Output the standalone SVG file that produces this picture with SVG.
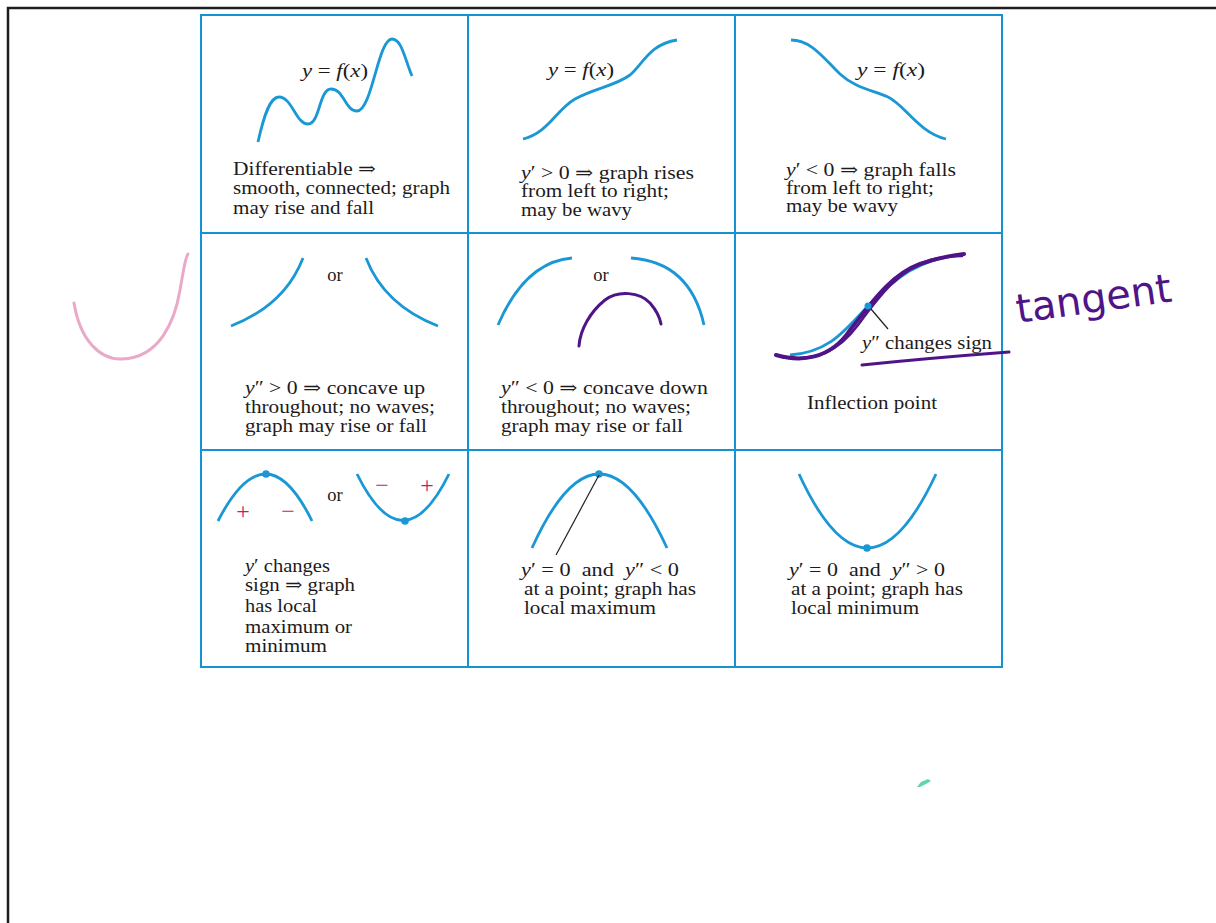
<svg xmlns="http://www.w3.org/2000/svg" width="1216" height="923" viewBox="0 0 1216 923">
<style>
.grid{fill:none;stroke:#1592d2;stroke-width:2}
.cv{fill:none;stroke:#1a98d5;stroke-width:2.8;stroke-linecap:butt}
.dot{fill:#1a98d5}
.t{font-family:"Liberation Serif","DejaVu Serif",serif;font-size:18.5px;fill:#1c1a1b;white-space:pre}
.i{font-style:italic}
.or{font-family:"Liberation Serif","DejaVu Serif",serif;font-size:18.5px;fill:#1c1a1b;text-anchor:middle}
.sg{font-family:"Liberation Serif","DejaVu Serif",serif;font-size:24px;fill:#c41a70;text-anchor:middle}
.lead{stroke:#231f20;stroke-width:1.2;fill:none}
.pen{fill:none;stroke:#4f1487;stroke-linecap:round;stroke-linejoin:round}
</style>
<rect x="0" y="0" width="1216" height="923" fill="#ffffff"/>
<g id="frame">
<path d="M8,923 L8,8 L1216,8" fill="none" stroke="#1e1e1e" stroke-width="2.5"/>
</g>
<g id="grid">
<rect class="grid" x="201" y="15" width="801" height="652"/>
<path class="grid" d="M468,15 V667 M735,15 V667 M201,233 H1002 M201,450 H1002"/>
</g>
<g id="cell-differentiable">
<path class="cv" d="M258,142 C264,115 270,97 279,97 C292,97 296,124 308,124 C320,124 319,89 331,89 C344,89 345,111 357,111 C372,111 378,39 392,39 C402,39 405,60 412,76"/>
<text class="t" x="302" y="77" textLength="66" lengthAdjust="spacingAndGlyphs"><tspan class="i">y</tspan> = <tspan class="i">f</tspan>(<tspan class="i">x</tspan>)</text>
<text class="t" x="233" y="175" textLength="143" lengthAdjust="spacingAndGlyphs">Differentiable ⇒</text>
<text class="t" x="233" y="194" textLength="217" lengthAdjust="spacingAndGlyphs">smooth, connected; graph</text>
<text class="t" x="233" y="214" textLength="141" lengthAdjust="spacingAndGlyphs">may rise and fall</text>
</g>
<g id="cell-rises">
<path class="cv" d="M523,139 C548,133 556,110 575,99 C595,88 615,86 630,75 C643,64 650,44 677,40"/>
<text class="t" x="548" y="76" textLength="66" lengthAdjust="spacingAndGlyphs"><tspan class="i">y</tspan> = <tspan class="i">f</tspan>(<tspan class="i">x</tspan>)</text>
<text class="t" x="521" y="179" textLength="173" lengthAdjust="spacingAndGlyphs"><tspan class="i">y</tspan>′ &gt; 0 ⇒ graph rises</text>
<text class="t" x="521" y="197" textLength="148" lengthAdjust="spacingAndGlyphs">from left to right;</text>
<text class="t" x="521" y="216" textLength="111" lengthAdjust="spacingAndGlyphs">may be wavy</text>
</g>
<g id="cell-falls">
<path class="cv" d="M791,40 C812,40 825,60 840,74 C855,88 872,90 888,97 C905,105 918,132 946,139"/>
<text class="t" x="857" y="76" textLength="68" lengthAdjust="spacingAndGlyphs"><tspan class="i">y</tspan> = <tspan class="i">f</tspan>(<tspan class="i">x</tspan>)</text>
<text class="t" x="786" y="176" textLength="170" lengthAdjust="spacingAndGlyphs"><tspan class="i">y</tspan>′ &lt; 0 ⇒ graph falls</text>
<text class="t" x="786" y="194" textLength="148" lengthAdjust="spacingAndGlyphs">from left to right;</text>
<text class="t" x="786" y="212" textLength="112" lengthAdjust="spacingAndGlyphs">may be wavy</text>
</g>
<g id="cell-concave-up">
<path class="cv" d="M231,326 Q285,305 303,258"/>
<path class="cv" d="M366,258 Q384,305 438,326"/>
<text class="or" x="335" y="281">or</text>
<text class="t" x="245" y="394" textLength="180" lengthAdjust="spacingAndGlyphs"><tspan class="i">y</tspan>″ &gt; 0 ⇒ concave up</text>
<text class="t" x="245" y="413" textLength="190" lengthAdjust="spacingAndGlyphs">throughout; no waves;</text>
<text class="t" x="245" y="432" textLength="182" lengthAdjust="spacingAndGlyphs">graph may rise or fall</text>
</g>
<g id="cell-concave-down">
<path class="cv" d="M498,325 Q525,262 572,258"/>
<path class="cv" d="M631,258 Q690,262 704,325"/>
<text class="or" x="601" y="281">or</text>
<path class="pen" stroke-width="3" d="M579,346 C580,330 590,312 605,300 C618,290 640,292 650,303 C656,310 660,318 661,324"/>
<text class="t" x="501" y="394" textLength="207" lengthAdjust="spacingAndGlyphs"><tspan class="i">y</tspan>″ &lt; 0 ⇒ concave down</text>
<text class="t" x="501" y="413" textLength="190" lengthAdjust="spacingAndGlyphs">throughout; no waves;</text>
<text class="t" x="501" y="432" textLength="182" lengthAdjust="spacingAndGlyphs">graph may rise or fall</text>
</g>
<g id="cell-inflection">
<path class="cv" d="M790,355 C830,352 845,330 868,306 C895,278 920,258 962,255"/>
<path class="pen" stroke-width="4" d="M776,355 C800,362 830,360 850,330 C870,305 890,275 920,264 C940,257 955,255 964,254"/>
<path class="pen" stroke-width="2.5" d="M782,357 C815,362 838,352 858,325 C878,298 898,270 930,260 C945,256 955,256 962,256"/>
<circle class="dot" cx="868" cy="306" r="3.5"/>
<text class="t" x="862" y="349" textLength="130" lengthAdjust="spacingAndGlyphs"><tspan class="i">y</tspan>″ changes sign</text>
<path class="pen" stroke-width="3" d="M862,365 Q930,358 1009,352"/>
<text class="t" x="807" y="409" textLength="130" lengthAdjust="spacingAndGlyphs">Inflection point</text>
</g>
<g id="cell-sign-change">
<path class="cv" d="M218,521 Q266,427 312,521"/>
<circle class="dot" cx="266" cy="474" r="3.8"/>
<text class="sg" x="243" y="519">+</text>
<text class="sg" x="288" y="519">−</text>
<text class="or" x="335" y="501">or</text>
<path class="cv" d="M357,474 Q403,567 449,474"/>
<circle class="dot" cx="405" cy="521" r="3.8"/>
<text class="sg" x="382" y="493">−</text>
<text class="sg" x="427" y="493">+</text>
<text class="t" x="245" y="572" textLength="85" lengthAdjust="spacingAndGlyphs"><tspan class="i">y</tspan>′ changes</text>
<text class="t" x="245" y="591" textLength="110" lengthAdjust="spacingAndGlyphs">sign ⇒ graph</text>
<text class="t" x="245" y="612" textLength="72" lengthAdjust="spacingAndGlyphs">has local</text>
<text class="t" x="245" y="633" textLength="107" lengthAdjust="spacingAndGlyphs">maximum or</text>
<text class="t" x="245" y="652" textLength="82" lengthAdjust="spacingAndGlyphs">minimum</text>
</g>
<g id="cell-local-max">
<path class="cv" d="M532,548 Q599,400 667,548"/>
<circle class="dot" cx="599" cy="474" r="3.8"/>
<text class="t" x="521" y="576" textLength="158" lengthAdjust="spacingAndGlyphs"><tspan class="i">y</tspan>′ = 0  and  <tspan class="i">y</tspan>″ &lt; 0</text>
<text class="t" x="524" y="595" textLength="172" lengthAdjust="spacingAndGlyphs">at a point; graph has</text>
<text class="t" x="524" y="614" textLength="132" lengthAdjust="spacingAndGlyphs">local maximum</text>
</g>
<g id="cell-local-min">
<path class="cv" d="M799,474 Q867,622 936,474"/>
<circle class="dot" cx="867" cy="548" r="3.8"/>
<text class="t" x="789" y="576" textLength="156" lengthAdjust="spacingAndGlyphs"><tspan class="i">y</tspan>′ = 0  and  <tspan class="i">y</tspan>″ &gt; 0</text>
<text class="t" x="791" y="595" textLength="172" lengthAdjust="spacingAndGlyphs">at a point; graph has</text>
<text class="t" x="791" y="614" textLength="128" lengthAdjust="spacingAndGlyphs">local minimum</text>
</g>
<g id="connectors">
<line class="lead" x1="871" y1="309" x2="888" y2="329"/>
<line class="lead" x1="599" y1="475" x2="556" y2="555"/>
</g>
<g id="annotations">
<path fill="none" stroke="#eaa9c8" stroke-width="3" stroke-linecap="round" d="M74,303 C80,340 100,360 122,359 C160,358 175,320 180,290 C184,268 185,258 188,254"/>
<text x="1018" y="323" transform="rotate(-8 1018 323)" font-family="DejaVu Sans, sans-serif" font-size="40" fill="#4f1487">tangent</text>
<path d="M917,787 L921,782 L928,779 L931,781 L926,784 L920,787 Z" fill="#5ed6ad"/>
</g>
</svg>
